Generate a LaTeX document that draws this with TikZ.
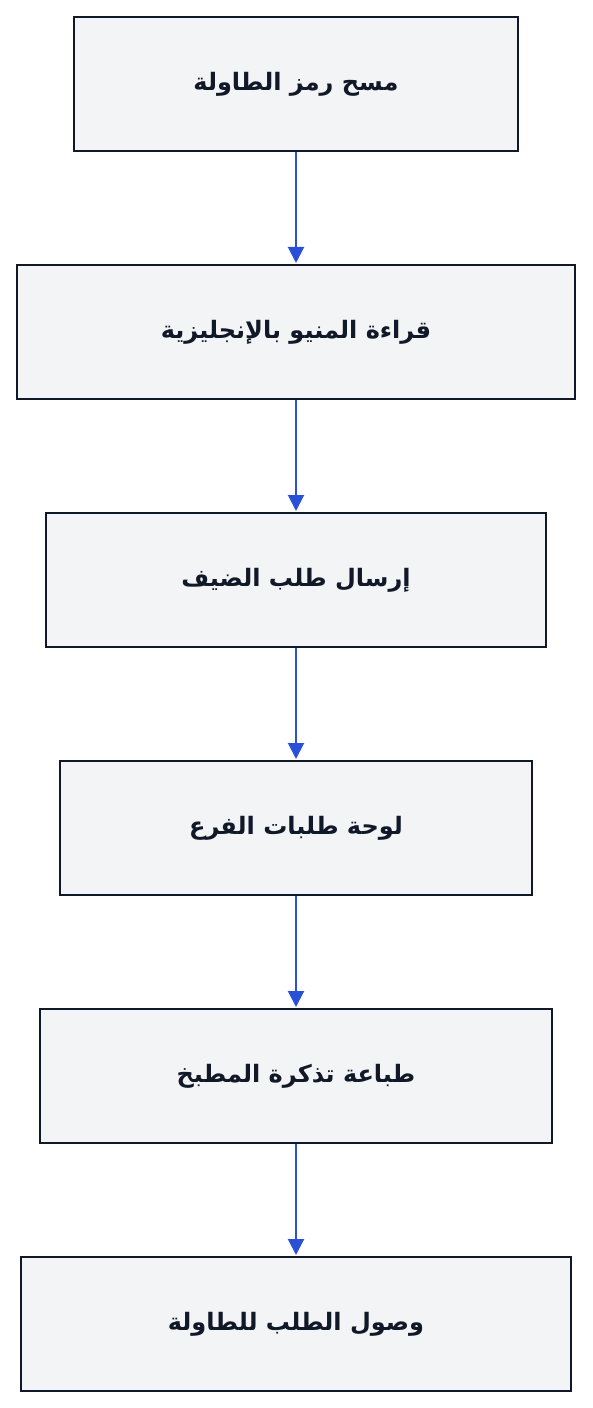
\documentclass[tikz,border=0pt]{standalone}
\usepackage{fontspec}
\newfontfamily\arabicfont[Script=Arabic]{DejaVu Sans}
\TeXXeTstate=1
\usetikzlibrary{arrows.meta}
\definecolor{boxfill}{HTML}{F3F4F6}
\definecolor{boxline}{HTML}{111827}
\definecolor{flowblue}{HTML}{2B50D8}
\newcommand{\artext}[1]{{\arabicfont\bfseries\beginR #1\endR}}
\tikzset{
  stepbox/.style={draw=boxline, fill=boxfill, line width=1.5pt, minimum height=134*0.75pt,
    font=\fontsize{18}{22}\selectfont, text=boxline, inner sep=0pt},
  flow/.style={draw=flowblue, line width=1.5pt, -{Triangle[length=12pt,width=12pt]}, shorten >=0.75pt}
}
\begin{document}
\begin{tikzpicture}[x=0.75pt,y=-0.75pt]
\useasboundingbox (0,0) rectangle (592,1408);
\node[stepbox, minimum width=444*0.75pt] (scan) at (296,84) {\artext{مسح رمز الطاولة}};
\node[stepbox, minimum width=558*0.75pt] (menu) at (296,332) {\artext{قراءة المنيو بالإنجليزية}};
\node[stepbox, minimum width=500*0.75pt] (send) at (296,580) {\artext{إرسال طلب الضيف}};
\node[stepbox, minimum width=472*0.75pt] (board) at (296,828) {\artext{لوحة طلبات الفرع}};
\node[stepbox, minimum width=512*0.75pt] (print) at (296,1076) {\artext{طباعة تذكرة المطبخ}};
\node[stepbox, minimum width=550*0.75pt] (serve) at (296,1324) {\artext{وصول الطلب للطاولة}};
\draw[flow] (scan) -- (menu);
\draw[flow] (menu) -- (send);
\draw[flow] (send) -- (board);
\draw[flow] (board) -- (print);
\draw[flow] (print) -- (serve);
\end{tikzpicture}
\end{document}
